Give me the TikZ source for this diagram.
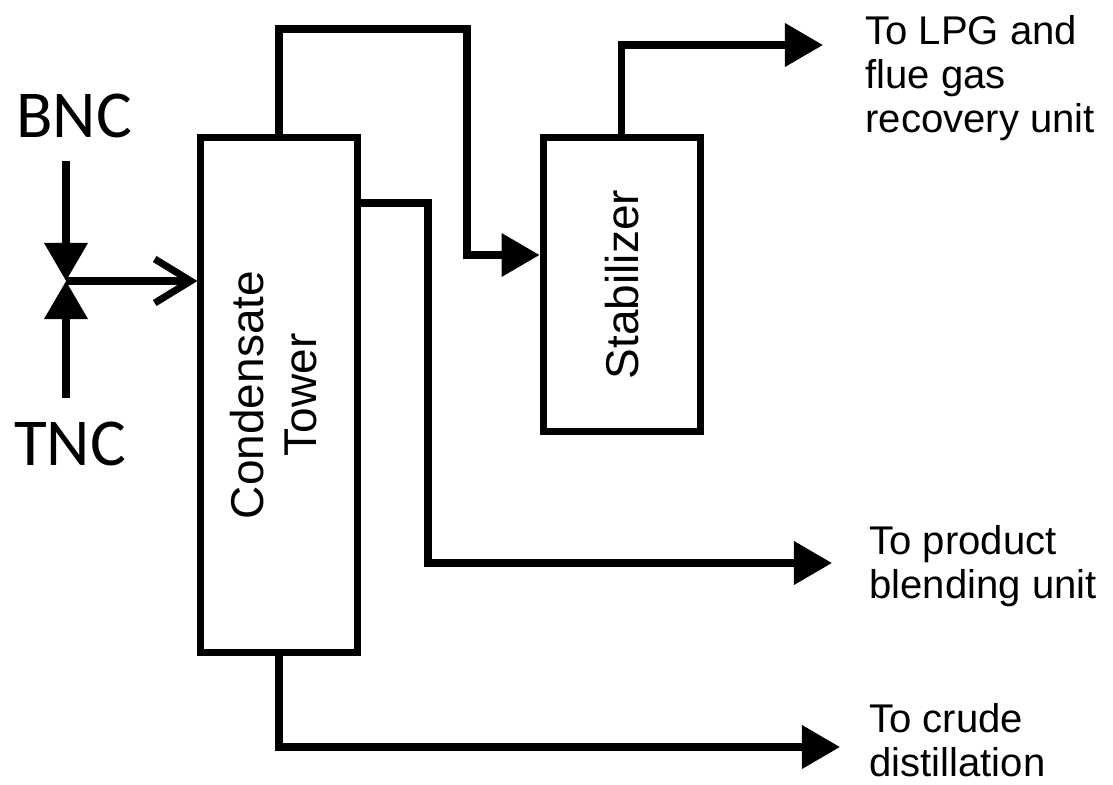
\documentclass[tikz,border=0pt]{standalone}
\usepackage{graphicx}
\usepackage{fontspec}
\setmainfont{Liberation Sans}
\newfontfamily\feedfont{Carlito}
\usetikzlibrary{arrows.meta,positioning,calc}

\begin{document}
\begin{tikzpicture}[
    x=0.025cm, y=-0.025cm,
    line width=5pt,
    unit/.style={draw, line width=5pt, inner sep=0pt, align=center, font=\fontsize{32.7}{37.7}\selectfont},
    towerbox/.style={unit, minimum width=3.9cm, minimum height=12.85cm},
    stabbox/.style={unit, minimum width=3.925cm, minimum height=7.325cm},
    feedlbl/.style={inner xsep=0pt, inner ysep=0.5cm, font=\feedfont\fontsize{47.7}{55}\selectfont},
    outlbl/.style={align=left, inner sep=0pt, anchor=north west, font=\fontsize{28.5}{31.3}\selectfont},
    flow/.style={-{Triangle[length=0.95cm, width=1.05cm]}, line width=5pt},
    inlet/.style={-{Straight Barb[length=0.9cm, width=1.1cm]}, line width=5pt}
]
\useasboundingbox (0,0) rectangle (1113,784);

\node[towerbox] (tower) at (279,395) {\rotatebox{90}{\begin{tabular}{@{}c@{}}Condensate\\Tower\end{tabular}}};
\node[stabbox, right=4.475cm of tower.north east, anchor=north west] (stab) {\rotatebox{90}{Stabilizer}};

\node[feedlbl] (bnc) at (74,115.5) {BNC};
\node[feedlbl] (tnc) at (70,443.5) {TNC};
\coordinate (mix) at (66,281);

\draw[flow] (bnc.south -| mix) -- (mix);
\draw[flow] (tnc.north -| mix) -- (mix);
\draw[inlet] (mix) -- (tower.west |- mix);

\coordinate (ovhd) at (467,29);
\coordinate (lpgtip) at (823,45);
\coordinate (prodbend) at (428,563);
\coordinate (prodtip) at (832,563);
\coordinate (crudetip) at (840,747);

\draw[flow] (tower.north) |- (ovhd) |- (stab.west |- 0,255);
\draw[flow] (stab.north) |- (lpgtip);
\draw[flow] (tower.east |- 0,203) -| (prodbend) -- (prodtip);
\draw[flow] (tower.south) |- (crudetip);

\node[outlbl] (lpglbl) at (862,12) {To LPG and\\flue gas\\recovery unit};
\node[outlbl] (prodlbl) at (866,522) {To product\\blending unit};
\node[outlbl] (crudelbl) at (866,700) {To crude\\distillation};
\end{tikzpicture}
\end{document}
